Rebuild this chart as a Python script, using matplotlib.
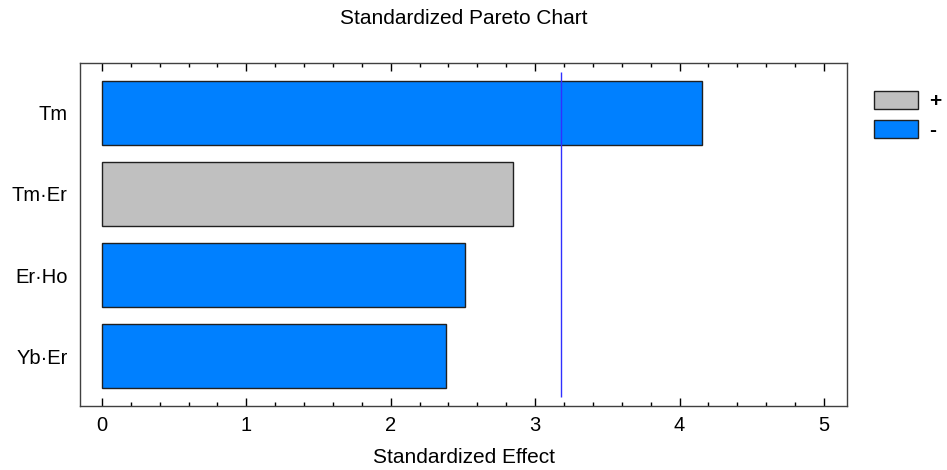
import matplotlib
matplotlib.use("Agg")
import matplotlib.pyplot as plt
from matplotlib.patches import Patch
from matplotlib.ticker import MultipleLocator

# Effects sorted by magnitude (top to bottom)
effects = ["Tm", "Tm·Er", "Er·Ho", "Yb·Er"]
std_effect = [4.155, 2.845, 2.515, 2.385]
signs = ["-", "+", "-", "-"]
critical_value = 3.182
x_ticks = [0, 1, 2, 3, 4, 5]

plt.rcParams["font.family"] = ["Liberation Sans", "DejaVu Sans"]

sign_colors = {"+": "#C0C0C0", "-": "#0080FF"}

fig = plt.figure(figsize=(9.47, 4.70), dpi=100)
ax_left, ax_width = 80 / 947, 767 / 947
ax = fig.add_axes([ax_left, 1 - 406 / 470, ax_width, 343 / 470])

ypos = list(range(len(effects)))
ax.barh(ypos, std_effect, height=0.79,
        color=[sign_colors[s] for s in signs],
        edgecolor="#202020", linewidth=1.0)
ax.vlines(critical_value, -0.5, len(effects) - 0.5, color="#3030FF", linewidth=1.0)

ax.set_ylim(len(effects) - 1 + 0.617, -0.617)
ax.set_xlim(-0.152, 5.16)
ax.set_yticks(ypos)
ax.set_yticklabels(effects, fontsize=14.5)
ax.set_xticks(x_ticks)
ax.set_xticklabels([str(t) for t in x_ticks], fontsize=14.5)
ax.xaxis.set_minor_locator(MultipleLocator(0.2))
ax.tick_params(axis="x", which="major", direction="in", length=6, width=1,
               top=True, bottom=True, pad=7.5)
ax.tick_params(axis="x", which="minor", direction="in", length=3, width=1,
               top=True, bottom=True)
ax.tick_params(axis="y", which="both", length=0, pad=9)
for sp in ax.spines.values():
    sp.set_color("#404040")
    sp.set_linewidth(1.0)

ax.set_xlabel("Standardized Effect", fontsize=15, labelpad=9)
fig.text(ax_left + ax_width / 2, 1 - 18 / 470, "Standardized Pareto Chart",
         fontsize=15, ha="center", va="center")

handles = [Patch(facecolor=sign_colors["+"], edgecolor="#202020", label="+"),
           Patch(facecolor=sign_colors["-"], edgecolor="#202020", label="-")]
fig.legend(handles=handles, loc="upper left", bbox_to_anchor=(874 / 947, 1 - 91 / 470),
           frameon=False, prop={"size": 15, "weight": "bold"},
           handlelength=2.1, handleheight=0.92,
           handletextpad=0.55, labelspacing=0.45, borderpad=0, borderaxespad=0)

fig.savefig("out.png", dpi=100)
